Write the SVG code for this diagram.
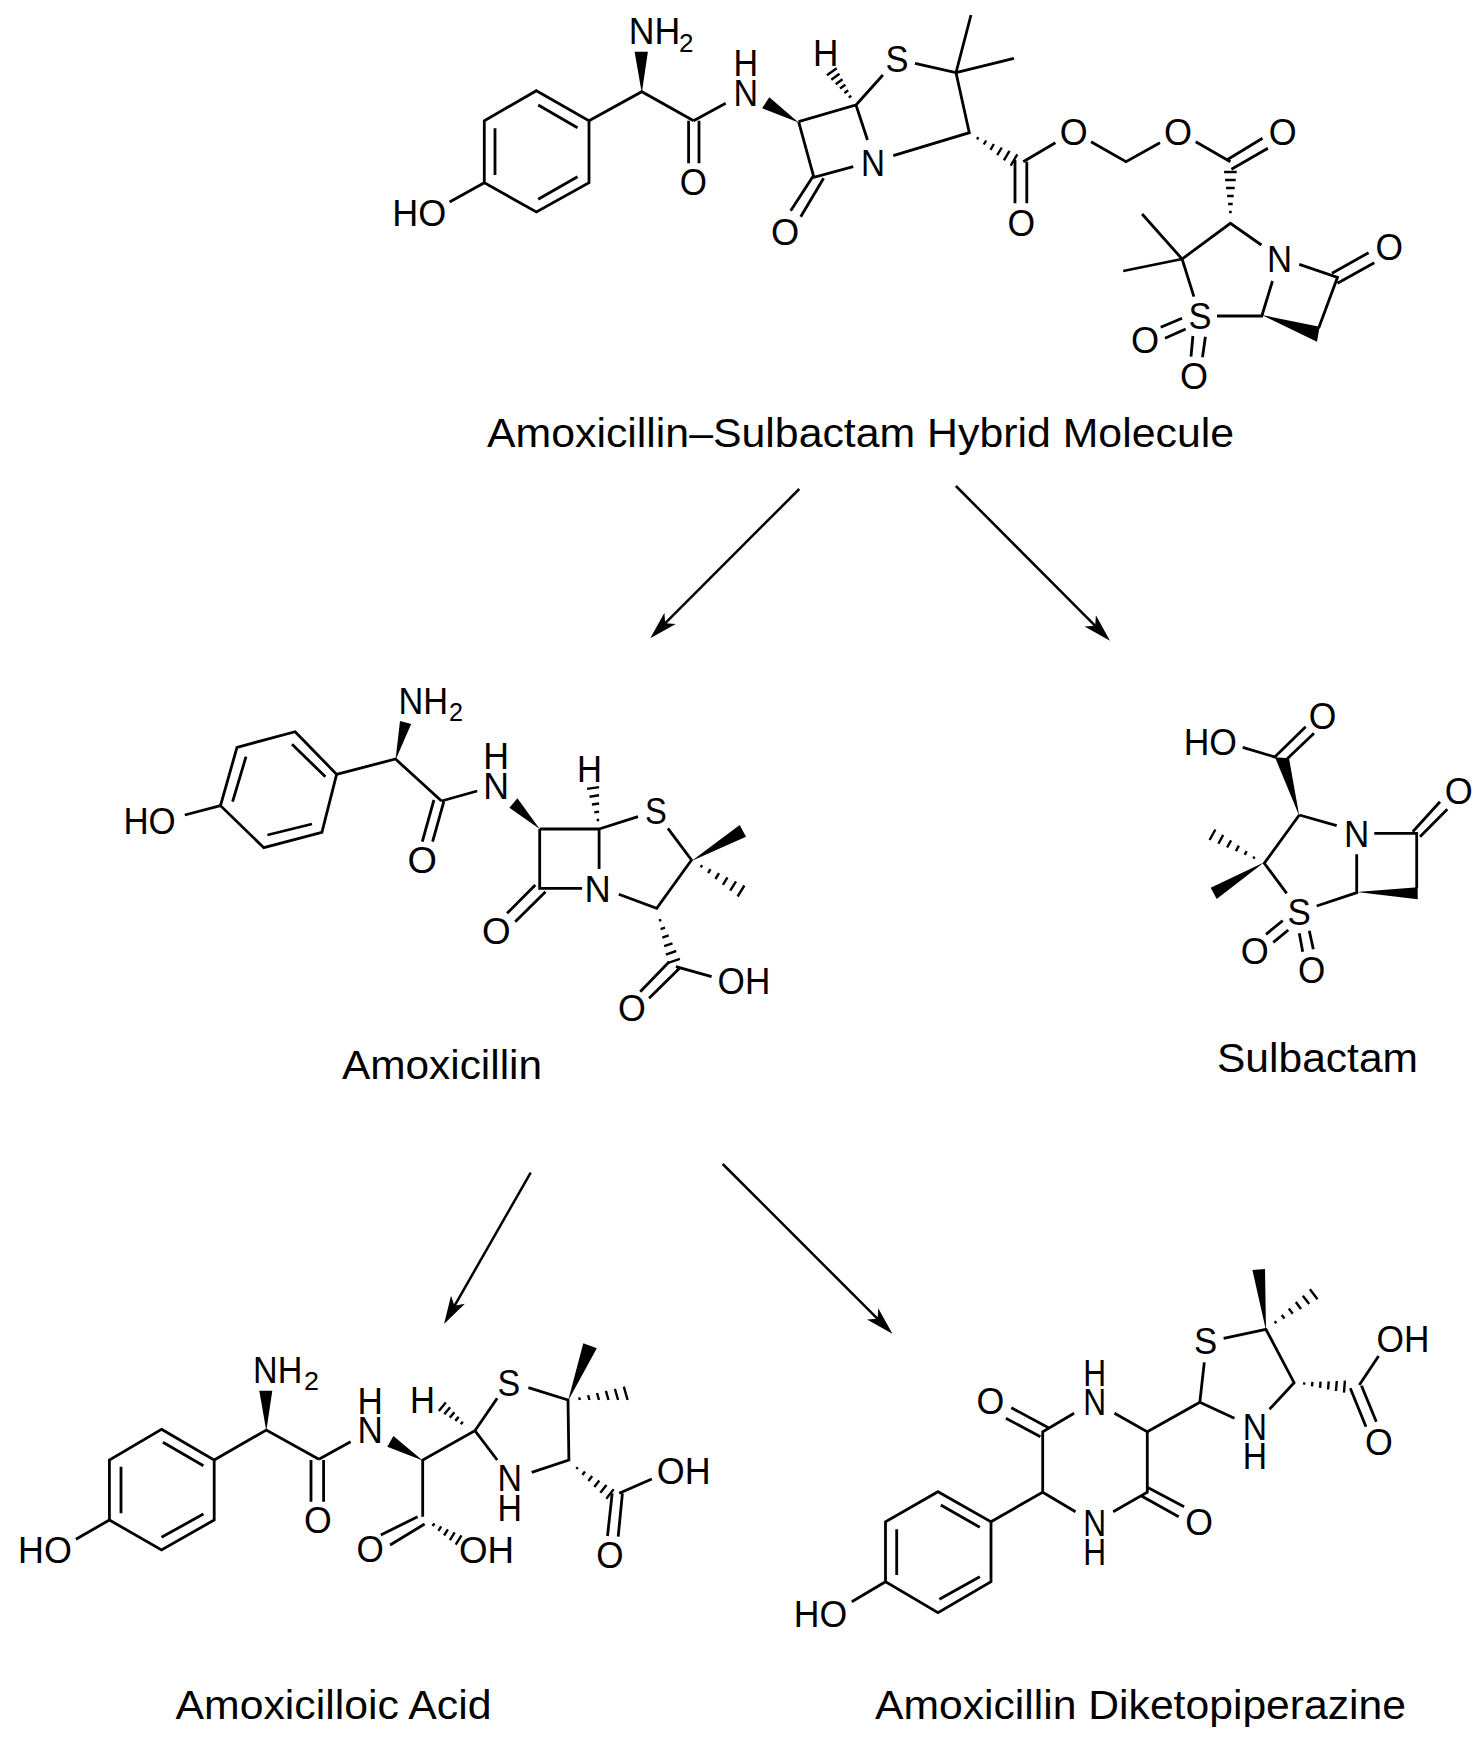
<svg xmlns="http://www.w3.org/2000/svg" width="1484" height="1741" viewBox="0 0 1484 1741">
<style>
.b{fill:none;stroke:#000;stroke-width:2.8;stroke-linecap:butt;stroke-linejoin:miter}
.h{fill:none;stroke:#000;stroke-width:2.4}
.w{fill:#000;stroke:none}
.a{font-family:"Liberation Sans",Arial,sans-serif;font-size:37px;fill:#000}
.s{font-family:"Liberation Sans",Arial,sans-serif;font-size:26px;fill:#000}
.t{font-family:"Liberation Sans",Arial,sans-serif;font-size:41px;fill:#000}
.c{fill:none;stroke:#000;stroke-width:2.5}
</style>
<defs>
<marker id="head" markerUnits="userSpaceOnUse" viewBox="0 0 28 18" refX="11" refY="9" markerWidth="28" markerHeight="18" orient="auto">
<path d="M28,9L0,1L7,9L0,17Z" fill="#000"/>
</marker>
</defs>
<rect width="1484" height="1741" fill="#fff"/>

<g id="connectors">
<path class="c" marker-end="url(#head)" d="M799.3,489L662.3,626.1"/>
<path class="c" marker-end="url(#head)" d="M955.9,486L1098,628.7"/>
<path class="c" marker-end="url(#head)" d="M530.7,1172.7L452.5,1309.3"/>
<path class="c" marker-end="url(#head)" d="M722.7,1164L880.4,1321.7"/>
</g>

<g id="hybrid">
<path class="b" d="M536.4,90.7L589,120.7V182.7L536.4,212L484.3,182.7V120.7Z"/>
<path class="b" d="M538.2,105L577.5,127.7M538.2,199.3L577.5,176.7M495,128.3V175M484.3,182.7L449.6,202M589,120.7L641.8,91.7L693.6,120.7M688.6,120.7V163.3M699,120.7V163.3M693.6,120.7L725.7,103.3"/>
<path class="b" d="M798.6,121.7L856,105L867.5,140M798.6,121.7L813.9,177.3L853.2,166.7M813.9,175L790.7,210.7M823.6,178.3L800.7,216.7M856,105L882.9,75"/>
<path class="b" d="M915,63.3L956,72.7L969.3,132.7L893.3,155.7M956,72.7L971,15M956,72.7L1014,58.3"/>
<path class="b" d="M1015,160V203.3M1026.8,161.7V203.3M1023.2,161.7L1055.4,142.7M1091,141.7L1126,161.7L1160,142.7M1195.7,141.7L1230.4,161.7M1226.8,160L1262.5,138.3M1231.4,169.3L1267.9,148.3"/>
<path class="b" d="M1261.4,245L1230.4,223.3L1182.1,259L1193.9,296.7M1182.1,259L1142.1,214M1182.1,259L1123.2,271M1272.5,281L1261.8,316H1217M1299.3,264.3L1337.5,277.3L1318.6,328.3M1332,273.3L1368.6,252.7M1337.5,283.3L1374.3,262.7M1160.7,327.3L1182.1,318.3M1165,338.3L1185.7,329M1192.9,336L1191,356.7M1205.4,336.7L1202.5,357.3"/>
<polygon class="w" points="641.8,93 634.6,51.7 647.9,51.7"/>
<polygon class="w" points="798.6,122.5 769.3,97.3 762.1,108.3"/>
<polygon class="w" points="1261.8,315 1319.6,326.7 1317,341.7"/>
<path class="h" d="M848.8,97.6L851.2,95.8M844.4,93.1L848.2,90.3M840,88.6L845.4,84.8M835.7,84.2L842.5,79.2M831.3,79.7L839.5,73.7M826.9,75.2L836.7,68.2"/>
<path class="h" d="M977,139.3L978.4,137.1M983.8,144.5L986.2,140.5M990.5,149.8L993.9,144M997.2,155.1L1001.8,147.5M1003.9,160.3L1009.5,150.9M1010.7,165.6L1017.3,154.4"/>
<path class="h" d="M1229.1,212H1231.7M1228.1,204H1232.7M1227.1,196H1233.7M1226.1,188H1234.7M1225.1,180H1235.7M1224.1,172H1236.7"/>
<text class="a" x="392.3" y="225.5" textLength="54" lengthAdjust="spacingAndGlyphs">HO</text>
<text class="a" x="628.7" y="43.8" textLength="51.5" lengthAdjust="spacingAndGlyphs">NH</text>
<text class="s" x="679" y="52" textLength="14.5" lengthAdjust="spacingAndGlyphs">2</text>
<text class="a" x="679.8" y="194.8" textLength="27.2" lengthAdjust="spacingAndGlyphs">O</text>
<text class="a"><tspan x="733.4" y="75.5" textLength="24.6" lengthAdjust="spacingAndGlyphs">H</tspan><tspan x="733.4" y="105.5" textLength="24.6" lengthAdjust="spacingAndGlyphs">N</tspan></text>
<text class="a" x="860.9" y="175.5" textLength="24" lengthAdjust="spacingAndGlyphs">N</text>
<text class="a" x="770.9" y="244.8" textLength="28.2" lengthAdjust="spacingAndGlyphs">O</text>
<text class="a" x="813" y="65.5" textLength="25.4" lengthAdjust="spacingAndGlyphs">H</text>
<text class="a" x="885.5" y="72.2" textLength="23" lengthAdjust="spacingAndGlyphs">S</text>
<text class="a" x="1007.6" y="235.5" textLength="27.6" lengthAdjust="spacingAndGlyphs">O</text>
<text class="a" x="1059.8" y="144.5" textLength="27.9" lengthAdjust="spacingAndGlyphs">O</text>
<text class="a" x="1164" y="144.5" textLength="28" lengthAdjust="spacingAndGlyphs">O</text>
<text class="a" x="1268.7" y="144.5" textLength="27.9" lengthAdjust="spacingAndGlyphs">O</text>
<text class="a" x="1188.5" y="328.8" textLength="23" lengthAdjust="spacingAndGlyphs">S</text>
<text class="a" x="1266.9" y="272.2" textLength="25.1" lengthAdjust="spacingAndGlyphs">N</text>
<text class="a" x="1375.5" y="259.8" textLength="27.5" lengthAdjust="spacingAndGlyphs">O</text>
<text class="a" x="1130.9" y="353.2" textLength="28.1" lengthAdjust="spacingAndGlyphs">O</text>
<text class="a" x="1180" y="388.8" textLength="28" lengthAdjust="spacingAndGlyphs">O</text>
<text class="t" x="487" y="446.7" textLength="747" lengthAdjust="spacingAndGlyphs">Amoxicillin–Sulbactam Hybrid Molecule</text>
</g>

<g id="amoxicillin">
<path class="b" d="M295.1,731.7L336.6,774.3L321.9,832.3L263.8,847.7L220.5,805.7L237,747.3Z"/>
<path class="b" d="M292,744.3L325.4,776.7M312,824L267.4,835M246,756.7L232.6,801.7M220.5,805.7L184.8,815M336.6,774.3L395.5,759L441.5,801M433.9,800L422.3,841.7M443.8,801.7L432.6,841.7M441.5,801L477.2,791"/>
<path class="b" d="M539.7,829H599.1V869M539.7,829V888.3H582.1M535.3,885L507.1,913.3M545.5,891.7L515.2,921.7M599.1,829L638,816.7M667.9,828.3L691.5,860L656.7,908.3L618.8,894.3M675.9,966.7L711.6,976.7M669.2,961.7L640.2,991.7M679.5,968.3L649.1,998.3"/>
<polygon class="w" points="395.5,760 400,721 411.2,724"/>
<polygon class="w" points="539.7,829 517.4,798.3 509.4,807.7"/>
<polygon class="w" points="691.5,861 739.7,825 746,836.7"/>
<path class="h" d="M596.7,820.2L599.1,819.8M594.3,812.4L599.1,811.6M591.9,804.5L599.1,803.5M589.5,796.7L599.1,795.3M587.1,788.9L599.1,787.1"/>
<path class="h" d="M700.7,867.3L702.1,865.1M708.1,873.2L710.5,869.2M715.4,879L719,873.2M722.9,884.8L727.5,877.4M730.2,890.6L736,881.4M737.6,896.5L744.4,885.5"/>
<path class="h" d="M658.9,920.6L661.3,919.8M660.6,929.2L665,927.6M662.3,937.6L668.7,935.4M664.1,946.1L672.5,943.3M665.8,954.6L676.2,951M667.5,963.1L679.9,958.9"/>
<text class="a" x="123.4" y="833.8" textLength="52.3" lengthAdjust="spacingAndGlyphs">HO</text>
<text class="a" x="398.4" y="713.8" textLength="49.6" lengthAdjust="spacingAndGlyphs">NH</text>
<text class="s" x="449" y="721.3" textLength="14" lengthAdjust="spacingAndGlyphs">2</text>
<text class="a" x="407.4" y="872.8" textLength="29.4" lengthAdjust="spacingAndGlyphs">O</text>
<text class="a"><tspan x="483.3" y="768.8" textLength="25.8" lengthAdjust="spacingAndGlyphs">H</tspan><tspan x="483.3" y="798.8" textLength="25.8" lengthAdjust="spacingAndGlyphs">N</tspan></text>
<text class="a" x="584.6" y="902.2" textLength="26.3" lengthAdjust="spacingAndGlyphs">N</text>
<text class="a" x="481.9" y="943.8" textLength="28.6" lengthAdjust="spacingAndGlyphs">O</text>
<text class="a" x="577" y="782.2" textLength="25" lengthAdjust="spacingAndGlyphs">H</text>
<text class="a" x="644.9" y="823.8" textLength="21.8" lengthAdjust="spacingAndGlyphs">S</text>
<text class="a" x="717.6" y="993.8" textLength="52.7" lengthAdjust="spacingAndGlyphs">OH</text>
<text class="a" x="618" y="1021.2" textLength="27.8" lengthAdjust="spacingAndGlyphs">O</text>
<text class="t" x="342" y="1079.3" textLength="200" lengthAdjust="spacingAndGlyphs">Amoxicillin</text>
</g>

<g id="sulbactam">
<path class="b" d="M1242.7,747.3L1276,757.3M1275,756.7L1305.7,726.7M1286.7,759.3L1314,733.3M1299.3,815L1336.7,825.7M1374.3,833.3H1416.7V888M1412.7,831.7L1440,801.7M1420,836.7L1447.3,809.3M1356.7,854.3V892.7L1316.7,906M1299.3,815L1264.3,863.3L1286.7,893.3M1266,934.3L1282.7,920.7M1273.3,942.3L1288.3,930M1299.3,933.3L1302.7,951.7M1309.3,930.7L1313.3,949.3"/>
<polygon class="w" points="1299.3,816 1275,757.3 1289,758.3"/>
<polygon class="w" points="1356.7,892 1417.7,887.3 1417.7,899.3"/>
<polygon class="w" points="1264.3,862.3 1210.7,887.7 1216.7,899"/>
<path class="h" d="M1253.3,858.6L1254.5,856.6M1244.7,854.9L1246.7,851.1M1235.9,851.1L1238.9,845.7M1227.1,847.5L1231.1,840.3M1218.4,843.7L1223.2,834.9M1209.6,840L1215.4,829.5"/>
<text class="a" x="1183.7" y="754.5" textLength="53.3" lengthAdjust="spacingAndGlyphs">HO</text>
<text class="a" x="1308.7" y="728.8" textLength="27.6" lengthAdjust="spacingAndGlyphs">O</text>
<text class="a" x="1344" y="846.5" textLength="25.3" lengthAdjust="spacingAndGlyphs">N</text>
<text class="a" x="1444.7" y="803.8" textLength="28" lengthAdjust="spacingAndGlyphs">O</text>
<text class="a" x="1287.5" y="924.5" textLength="23.3" lengthAdjust="spacingAndGlyphs">S</text>
<text class="a" x="1240.7" y="963.8" textLength="28" lengthAdjust="spacingAndGlyphs">O</text>
<text class="a" x="1298" y="982.8" textLength="27.3" lengthAdjust="spacingAndGlyphs">O</text>
<text class="t" x="1217" y="1071.7" textLength="201" lengthAdjust="spacingAndGlyphs">Sulbactam</text>
</g>

<g id="amoxicilloic-acid">
<path class="b" d="M161.5,1429.3L214.2,1460V1520L161.5,1550L109.4,1520V1460Z"/>
<path class="b" d="M162.9,1442.3L203.4,1465.7M161.5,1537.3L203.4,1514M121,1466.7V1513.3M109.4,1520L75.9,1539.3M214.2,1460L266.3,1430L318.9,1459.3M311,1460V1501.7M323.6,1460V1501.7M318.9,1459.3L350.6,1441.7"/>
<path class="b" d="M422.7,1516.7V1460L474.9,1430.7L497.2,1398.3M417.6,1516.7L380.8,1535M424.6,1524L390.1,1545M528.4,1387.7L568,1400L568.9,1460L531.7,1472.3M474.9,1430.7L497.2,1460M619.2,1493.3L651.8,1479M612.2,1493.3L607.5,1536M622.4,1493.3L618.2,1536.7"/>
<polygon class="w" points="266.3,1431 259.3,1390.7 272.3,1390.7"/>
<polygon class="w" points="422.7,1460.5 393.4,1436 387.3,1446.7"/>
<polygon class="w" points="568,1401 583.3,1343.3 596.8,1348.3"/>
<path class="h" d="M460.8,1424.3L462.8,1421.7M455.3,1420.9L458.7,1416.9M449.8,1417.6L454.4,1412.2M444.3,1414.3L450.1,1407.3M438.8,1410.9L445.8,1402.5"/>
<path class="h" d="M432.6,1526.2L434.4,1523.4M438.4,1530.8L441.2,1526.4M444.1,1535.5L447.9,1529.3M449.9,1540.1L454.7,1532.3M455.7,1544.7L461.5,1535.3"/>
<path class="h" d="M579.1,1397.4L579.9,1400M588.1,1395.2L589.5,1400M597,1393L599,1400M605.9,1390.8L608.5,1400M614.9,1388.8L618.1,1400M623.8,1386.7L627.6,1400"/>
<path class="h" d="M576.4,1469.1L577.8,1467.3M582.4,1475L585,1471.6M588.4,1480.9L592.2,1476.1M594.3,1486.9L599.3,1480.5M600.3,1492.7L606.5,1484.9M606.3,1498.7L613.7,1489.3"/>
<text class="a" x="18" y="1563.2" textLength="53.8" lengthAdjust="spacingAndGlyphs">HO</text>
<text class="a" x="253" y="1383.2" textLength="49.3" lengthAdjust="spacingAndGlyphs">NH</text>
<text class="s" x="304" y="1390.3" textLength="15" lengthAdjust="spacingAndGlyphs">2</text>
<text class="a" x="303.9" y="1532.8" textLength="27.7" lengthAdjust="spacingAndGlyphs">O</text>
<text class="a"><tspan x="357.4" y="1413.8" textLength="25.4" lengthAdjust="spacingAndGlyphs">H</tspan><tspan x="357.4" y="1443.2" textLength="25.4" lengthAdjust="spacingAndGlyphs">N</tspan></text>
<text class="a" x="356.5" y="1562.2" textLength="27.3" lengthAdjust="spacingAndGlyphs">O</text>
<text class="a" x="458.9" y="1563.2" textLength="55.1" lengthAdjust="spacingAndGlyphs">OH</text>
<text class="a" x="410" y="1412.8" textLength="25" lengthAdjust="spacingAndGlyphs">H</text>
<text class="a" x="497.5" y="1395.5" textLength="22.7" lengthAdjust="spacingAndGlyphs">S</text>
<text class="a"><tspan x="497.5" y="1490.5" textLength="24.5" lengthAdjust="spacingAndGlyphs">N</tspan><tspan x="497.5" y="1520.5" textLength="24.5" lengthAdjust="spacingAndGlyphs">H</tspan></text>
<text class="a" x="656.8" y="1483.8" textLength="53.8" lengthAdjust="spacingAndGlyphs">OH</text>
<text class="a" x="596.2" y="1567.8" textLength="27.3" lengthAdjust="spacingAndGlyphs">O</text>
<text class="t" x="175.5" y="1719" textLength="316" lengthAdjust="spacingAndGlyphs">Amoxicilloic Acid</text>
</g>

<g id="amoxicillin-diketopiperazine">
<path class="b" d="M938,1491.7L991,1521.7V1581.7L938,1612.7L885.5,1581.7V1521.7Z"/>
<path class="b" d="M940.8,1505L979.8,1527.3M939.4,1599.3L979.8,1576.7M896.7,1529.3V1575M885.5,1581.7L851.8,1601.7M991,1521.7L1042.7,1492.3V1431.7L1074.1,1413.3M1042.7,1492.3L1075.5,1511.7M1113.2,1511.7L1147.3,1492.3V1431.7L1114.5,1413.3M1147.3,1487.3L1184.1,1506.7M1141.5,1496L1178.7,1516.7M1005.9,1418.3L1040.4,1436.7M1011.3,1407.7L1048.5,1427.7"/>
<path class="b" d="M1147.3,1431.7L1199.8,1402.3L1204.3,1362.3M1199.8,1402.3L1234.4,1418.3M1269.5,1409.3L1294.1,1382.7L1265.9,1329.3L1223.6,1338.3M1359.3,1385L1378.6,1356M1350.3,1388.3L1366,1426.7M1361.5,1385.7L1376.3,1421.7"/>
<polygon class="w" points="1266,1330.5 1252.4,1270 1265,1269"/>
<path class="h" d="M1274.7,1321.3L1276.3,1323.3M1281.7,1314.9L1284.5,1318.5M1288.8,1308.5L1292.8,1313.7M1295.8,1302.1L1301,1308.9M1302.8,1295.7L1309.2,1304.1M1309.9,1289.3L1317.5,1299.3"/>
<path class="h" d="M1304.3,1382.3L1304.1,1384.7M1312.4,1381.9L1312,1386.3M1320.5,1381.7L1320.1,1387.9M1328.7,1381.3L1328.1,1389.5M1336.8,1381L1336,1391M1344.9,1380.7L1344,1392.7"/>
<text class="a" x="793.7" y="1626.5" textLength="53.4" lengthAdjust="spacingAndGlyphs">HO</text>
<text class="a"><tspan x="1083.3" y="1535.5" textLength="22.9" lengthAdjust="spacingAndGlyphs">N</tspan><tspan x="1083.3" y="1564.8" textLength="22.9" lengthAdjust="spacingAndGlyphs">H</tspan></text>
<text class="a" x="1185.3" y="1534.8" textLength="27.7" lengthAdjust="spacingAndGlyphs">O</text>
<text class="a"><tspan x="1083.3" y="1385.5" textLength="22.9" lengthAdjust="spacingAndGlyphs">H</tspan><tspan x="1083.3" y="1414.8" textLength="22.9" lengthAdjust="spacingAndGlyphs">N</tspan></text>
<text class="a" x="976.5" y="1413.8" textLength="27.8" lengthAdjust="spacingAndGlyphs">O</text>
<text class="a" x="1193.9" y="1353.8" textLength="23.2" lengthAdjust="spacingAndGlyphs">S</text>
<text class="a"><tspan x="1242.7" y="1439.8" textLength="24.3" lengthAdjust="spacingAndGlyphs">N</tspan><tspan x="1242.7" y="1468.8" textLength="24.3" lengthAdjust="spacingAndGlyphs">H</tspan></text>
<text class="a" x="1376.6" y="1351.5" textLength="52.9" lengthAdjust="spacingAndGlyphs">OH</text>
<text class="a" x="1364.9" y="1454.5" textLength="27.8" lengthAdjust="spacingAndGlyphs">O</text>
<text class="t" x="875" y="1719.3" textLength="531" lengthAdjust="spacingAndGlyphs">Amoxicillin Diketopiperazine</text>
</g>
</svg>
